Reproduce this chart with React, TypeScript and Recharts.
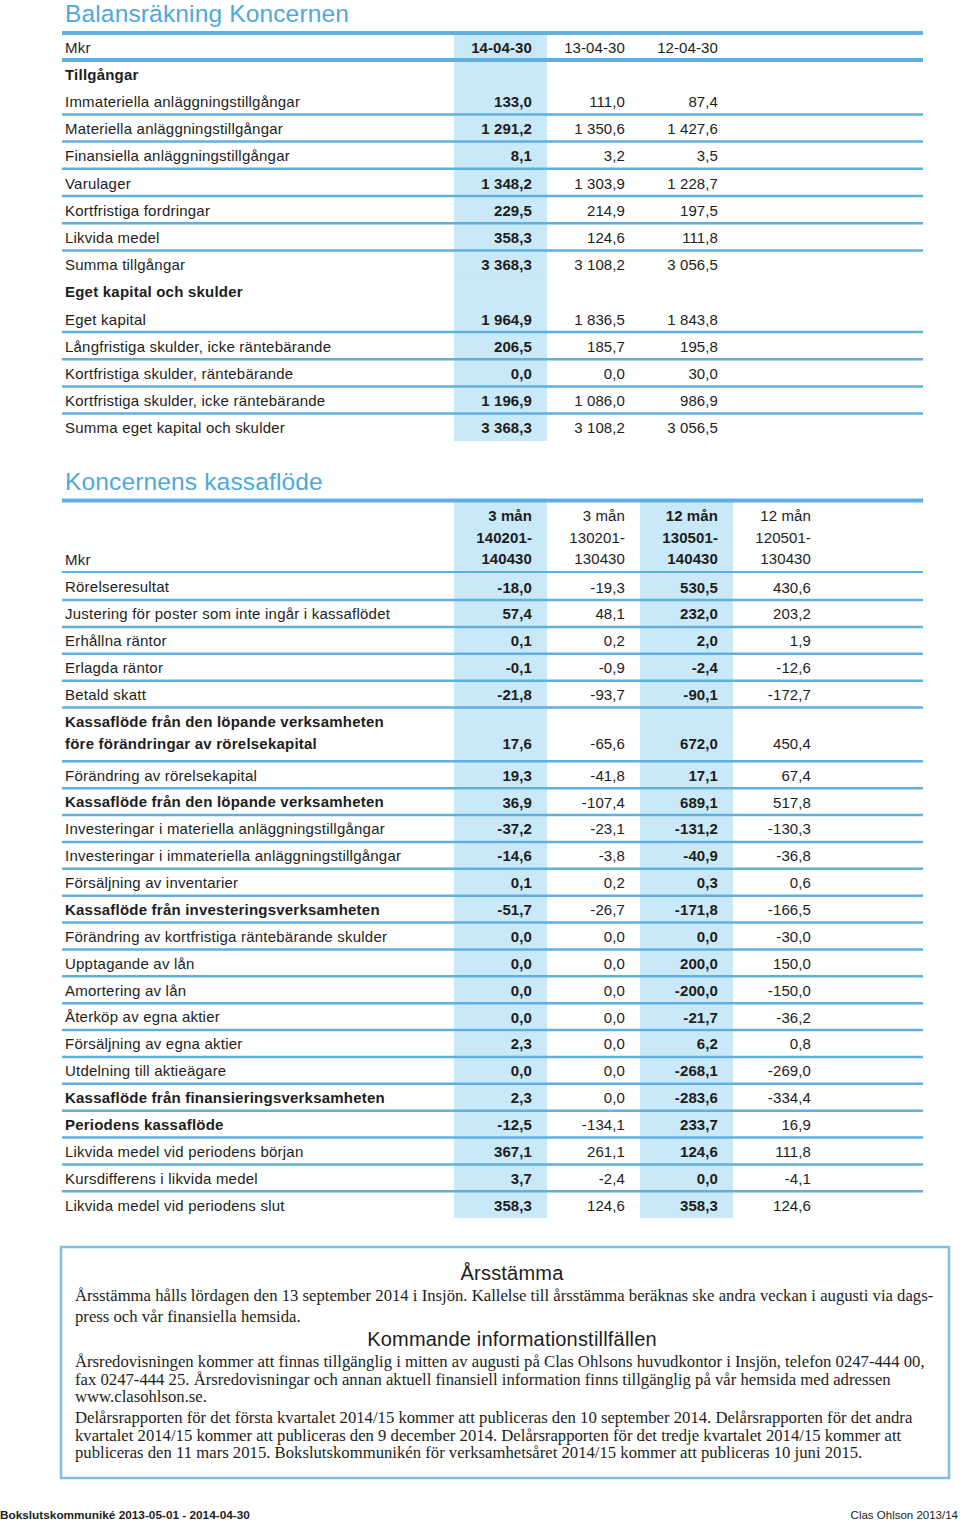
import React from 'react';
import { ComposedChart, Bar, XAxis, YAxis } from 'recharts';

const SANS = '"Liberation Sans", Arial, Helvetica, sans-serif';
const SERIF = '"Liberation Serif", "Times New Roman", serif';
const INK = '#1d1d1b';
const TITLE_BLUE = '#4ea8dc';
const RULE = '#5fb0df';
const HILITE = '#c9e8f8';
const BOX = '#7cc0e3';

// ---------- Balansräkning Koncernen ----------
const bsHeaderLabel = 'Mkr';
const bsPeriods = ['14-04-30', '13-04-30', '12-04-30'];
const bsLabels = [
  'Tillgångar',
  'Immateriella anläggningstillgångar',
  'Materiella anläggningstillgångar',
  'Finansiella anläggningstillgångar',
  'Varulager',
  'Kortfristiga fordringar',
  'Likvida medel',
  'Summa tillgångar',
  'Eget kapital och skulder',
  'Eget kapital',
  'Långfristiga skulder, icke räntebärande',
  'Kortfristiga skulder, räntebärande',
  'Kortfristiga skulder, icke räntebärande',
  'Summa eget kapital och skulder',
];
const bsBold = [true, false, false, false, false, false, false, false, true, false, false, false, false, false];
const bsRules = ['none', 'thin', 'thin', 'thin', 'thin', 'thin', 'thin', 'none', 'none', 'thin', 'thin', 'thin', 'thin', 'none'];
const bs140430 = [null, 133.0, 1291.2, 8.1, 1348.2, 229.5, 358.3, 3368.3, null, 1964.9, 206.5, 0.0, 1196.9, 3368.3];
const bs130430 = [null, 111.0, 1350.6, 3.2, 1303.9, 214.9, 124.6, 3108.2, null, 1836.5, 185.7, 0.0, 1086.0, 3108.2];
const bs120430 = [null, 87.4, 1427.6, 3.5, 1228.7, 197.5, 111.8, 3056.5, null, 1843.8, 195.8, 30.0, 986.9, 3056.5];

// ---------- Koncernens kassaflöde ----------
const cfHeaderLabel = 'Mkr';
const cfHeaders = [
  ['3 mån', '140201-', '140430'],
  ['3 mån', '130201-', '130430'],
  ['12 mån', '130501-', '140430'],
  ['12 mån', '120501-', '130430'],
];
const cfLabels = [
  'Rörelseresultat',
  'Justering för poster som inte ingår i kassaflödet',
  'Erhållna räntor',
  'Erlagda räntor',
  'Betald skatt',
  'Kassaflöde från den löpande verksamheten',
  'före förändringar av rörelsekapital',
  'Förändring av rörelsekapital',
  'Kassaflöde från den löpande verksamheten',
  'Investeringar i materiella anläggningstillgångar',
  'Investeringar i immateriella anläggningstillgångar',
  'Försäljning av inventarier',
  'Kassaflöde från investeringsverksamheten',
  'Förändring av kortfristiga räntebärande skulder',
  'Upptagande av lån',
  'Amortering av lån',
  'Återköp av egna aktier',
  'Försäljning av egna aktier',
  'Utdelning till aktieägare',
  'Kassaflöde från finansieringsverksamheten',
  'Periodens kassaflöde',
  'Likvida medel vid periodens början',
  'Kursdifferens i likvida medel',
  'Likvida medel vid periodens slut',
];
const cfBold = [false, false, false, false, false, true, true, false, true, false, false, false, true, false, false, false, false, false, false, true, true, false, false, false];
const cfRules = ['thin', 'thin', 'thin', 'thin', 'thin', 'none', 'thin', 'thin', 'thin', 'thin', 'thin', 'thin', 'thin', 'thin', 'thin', 'thin', 'thin', 'thin', 'thin', 'thin', 'thin', 'thin', 'thin', 'none'];
const cfQ1314 = [-18.0, 57.4, 0.1, -0.1, -21.8, null, 17.6, 19.3, 36.9, -37.2, -14.6, 0.1, -51.7, 0.0, 0.0, 0.0, 0.0, 2.3, 0.0, 2.3, -12.5, 367.1, 3.7, 358.3];
const cfQ1213 = [-19.3, 48.1, 0.2, -0.9, -93.7, null, -65.6, -41.8, -107.4, -23.1, -3.8, 0.2, -26.7, 0.0, 0.0, 0.0, 0.0, 0.0, 0.0, 0.0, -134.1, 261.1, -2.4, 124.6];
const cfY1314 = [530.5, 232.0, 2.0, -2.4, -90.1, null, 672.0, 17.1, 689.1, -131.2, -40.9, 0.3, -171.8, 0.0, 200.0, -200.0, -21.7, 6.2, -268.1, -283.6, 233.7, 124.6, 0.0, 358.3];
const cfY1213 = [430.6, 203.2, 1.9, -12.6, -172.7, null, 450.4, 67.4, 517.8, -130.3, -36.8, 0.6, -166.5, -30.0, 150.0, -150.0, -36.2, 0.8, -269.0, -334.4, 16.9, 111.8, -4.1, 124.6];

// each table column occupies one unit on the (hidden) numeric axis
const COLUMN_UNIT = 1;

type Rule = 'none' | 'thin' | 'thick';
interface Row {
  id: string;
  label: string[];
  bold: boolean;
  cells: string[][];
  rule: Rule;
  [k: string]: any;
}

const fmt = (v: number | null): string => {
  if (v === null || v === undefined) return '';
  const neg = v < 0;
  const [i, d] = Math.abs(v).toFixed(1).split('.');
  const ii = i.replace(/\B(?=(\d{3})+(?!\d))/g, ' ');
  return (neg ? '-' : '') + ii + ',' + d;
};

const withUnits = (rows: Row[], nCols: number): Row[] =>
  rows.map((r) => {
    const o: Row = { ...r };
    for (let c = 0; c < nCols; c++) o['u' + c] = COLUMN_UNIT;
    return o;
  });

const bsRows: Row[] = [
  { id: '0', label: [bsHeaderLabel], bold: false, cells: bsPeriods.map((p) => [p]), rule: 'thick' },
  ...bsLabels.map((l, i) => ({
    id: String(i + 1),
    label: [l],
    bold: bsBold[i],
    cells: [bs140430, bs130430, bs120430].map((col) => [fmt(col[i])]),
    rule: bsRules[i] as Rule,
  })),
];

const cfHeadRows: Row[] = [
  { id: '0', label: [cfHeaderLabel], bold: false, cells: cfHeaders, rule: 'thick' },
];

const cfRows: Row[] = cfLabels.map((l, i) => ({
  id: String(i),
  label: [l],
  bold: cfBold[i],
  cells: [cfQ1314, cfQ1213, cfY1314, cfY1213].map((col) => [fmt(col[i])]),
  rule: cfRules[i] as Rule,
}));

const LINE_PITCH = 21.5;
const BASE_DY = 6;
const FONT_SIZE = 15;
const LABEL_SPACING = 0.22;

const lineY = (center: number, i: number, n: number, nMax: number) =>
  center + BASE_DY + (i - (n - 1)) * LINE_PITCH + ((nMax - 1) / 2) * LINE_PITCH;

const rowMaxLines = (r: Row) => Math.max(r.label.length, ...r.cells.map((c) => c.length));

interface TableProps {
  rows: Row[];
  nCols: number;
  highlight: number[];
  top: number;
  height: number;
  tail: number;
  nudge?: Record<number, number>;
}

function TableChart({ rows, nCols, highlight, top, height, tail, nudge = {} }: TableProps) {
  const data = withUnits(rows, nCols);
  const colWidth = 93;
  const axisWidth = 454;
  const rightMargin = 960 - axisWidth - colWidth * nCols;

  const LabelTick = (props: any) => {
    const { y, payload } = props;
    const idx = Number(payload.value);
    const row = rows[idx];
    if (!row) return null;
    const nMax = rowMaxLines(row);
    const dy = nudge[idx] || 0;
    return (
      <g>
        {row.label.map((t, i) => (
          <text
            key={i}
            x={65}
            y={lineY(y, i, row.label.length, nMax) + dy}
            textAnchor="start"
            fontFamily={SANS}
            fontSize={FONT_SIZE}
            letterSpacing={LABEL_SPACING}
            fontWeight={row.bold ? 'bold' : 'normal'}
            fill={INK}
          >
            {t}
          </text>
        ))}
      </g>
    );
  };

  const cellShape = (col: number) => (props: any) => {
    const { x, y, width, height: h, index } = props;
    const row = rows[index];
    if (!row) return <g />;
    const hl = highlight.includes(col);
    const cy = y + h / 2 + (nudge[index] || 0);
    const lines = row.cells[col] || [];
    const nMax = rowMaxLines(row);
    const isLast = index === rows.length - 1;
    return (
      <g>
        {hl && (
          <rect x={x} y={y} width={width} height={h + (isLast ? tail : 1)} fill={HILITE} />
        )}
        {lines.map((t, i) => (
          <text
            key={i}
            x={x + width - 15}
            y={lineY(cy, i, lines.length, nMax)}
            textAnchor="end"
            fontFamily={SANS}
            fontSize={FONT_SIZE}
            letterSpacing={0.1}
            fontWeight={hl ? 'bold' : 'normal'}
            fill={INK}
          >
            {t}
          </text>
        ))}
        {col === nCols - 1 && row.rule !== 'none' && (
          <line
            x1={62}
            x2={923}
            y1={y + h}
            y2={y + h}
            stroke={RULE}
            strokeWidth={row.rule === 'thick' ? 4 : 2.5}
          />
        )}
      </g>
    );
  };

  return (
    <div style={{ position: 'absolute', left: 0, top, width: 960, height }}>
      <ComposedChart
        width={960}
        height={height}
        data={data}
        layout="vertical"
        barCategoryGap={0}
        barGap={0}
        margin={{ top: 0, right: rightMargin, bottom: 0, left: 0 }}
      >
        <XAxis type="number" hide domain={[0, nCols * COLUMN_UNIT]} />
        <YAxis
          type="category"
          dataKey="id"
          width={axisWidth}
          axisLine={false}
          tickLine={false}
          interval={0}
          tick={<LabelTick />}
        />
        {Array.from({ length: nCols }).map((_, c) => (
          <Bar
            key={c}
            dataKey={'u' + c}
            stackId="cols"
            isAnimationActive={false}
            shape={cellShape(c)}
          />
        ))}
      </ComposedChart>
    </div>
  );
}

const boxLines: { text: string; y: number; heading?: boolean }[] = [
  { text: 'Årsstämma', y: 1280, heading: true },
  { text: 'Årsstämma hålls lördagen den 13 september 2014 i Insjön. Kallelse till årsstämma beräknas ske andra veckan i augusti via dags-', y: 1301 },
  { text: 'press och vår finansiella hemsida.', y: 1322 },
  { text: 'Kommande informationstillfällen', y: 1346, heading: true },
  { text: 'Årsredovisningen kommer att finnas tillgänglig i mitten av augusti på Clas Ohlsons huvudkontor i Insjön, telefon 0247-444 00,', y: 1366.5 },
  { text: 'fax 0247-444 25. Årsredovisningar och annan aktuell finansiell information finns tillgänglig på vår hemsida med adressen', y: 1384.5 },
  { text: 'www.clasohlson.se.', y: 1402 },
  { text: 'Delårsrapporten för det första kvartalet 2014/15 kommer att publiceras den 10 september 2014. Delårsrapporten för det andra', y: 1422.5 },
  { text: 'kvartalet 2014/15 kommer att publiceras den 9 december 2014. Delårsrapporten för det tredje kvartalet 2014/15 kommer att', y: 1440.5 },
  { text: 'publiceras den 11 mars 2015. Bokslutskommunikén för verksamhetsåret 2014/15 kommer att publiceras 10 juni 2015.', y: 1458 },
];

export default function App() {
  return (
    <div style={{ position: 'absolute', left: 0, top: 0, width: 960, height: 1522, background: '#fff', overflow: 'hidden' }}>
      <TableChart rows={bsRows} nCols={3} highlight={[0]} top={33} height={408} tail={2} />
      <TableChart rows={cfHeadRows} nCols={4} highlight={[0, 2]} top={500.5} height={72.1} tail={1} />
      <TableChart rows={cfRows} nCols={4} highlight={[0, 2]} top={572.6} height={645} tail={4} nudge={{ 6: -5 }} />
      <svg
        width={960}
        height={1522}
        style={{ position: 'absolute', left: 0, top: 0, pointerEvents: 'none' }}
      >
        <text x={65} y={22} fontFamily={SANS} fontSize={24.5} letterSpacing={0.15} fill={TITLE_BLUE}>
          Balansräkning Koncernen
        </text>
        <line x1={62} x2={923} y1={33} y2={33} stroke={RULE} strokeWidth={4} />
        <text x={65} y={490} fontFamily={SANS} fontSize={24.5} letterSpacing={0.15} fill={TITLE_BLUE}>
          Koncernens kassaflöde
        </text>
        <line x1={62} x2={923} y1={500.5} y2={500.5} stroke={RULE} strokeWidth={4} />

        <rect x={61} y={1247} width={888} height={231} fill="none" stroke={BOX} strokeWidth={2.5} />
        {boxLines.map((l, i) =>
          l.heading ? (
            <text key={i} x={512} y={l.y} textAnchor="middle" fontFamily={SANS} fontSize={20} letterSpacing={0.2} fill={INK}>
              {l.text}
            </text>
          ) : (
            <text key={i} x={75} y={l.y} fontFamily={SERIF} fontSize={16.7} fill={INK}>
              {l.text}
            </text>
          )
        )}

        <text x={0} y={1519} fontFamily={SANS} fontSize={11.8} fontWeight="bold" fill={INK}>
          Bokslutskommuniké 2013-05-01 - 2014-04-30
        </text>
        <text x={958} y={1519} textAnchor="end" fontFamily={SANS} fontSize={11.5} fill={INK}>
          Clas Ohlson 2013/14
        </text>
      </svg>
    </div>
  );
}
